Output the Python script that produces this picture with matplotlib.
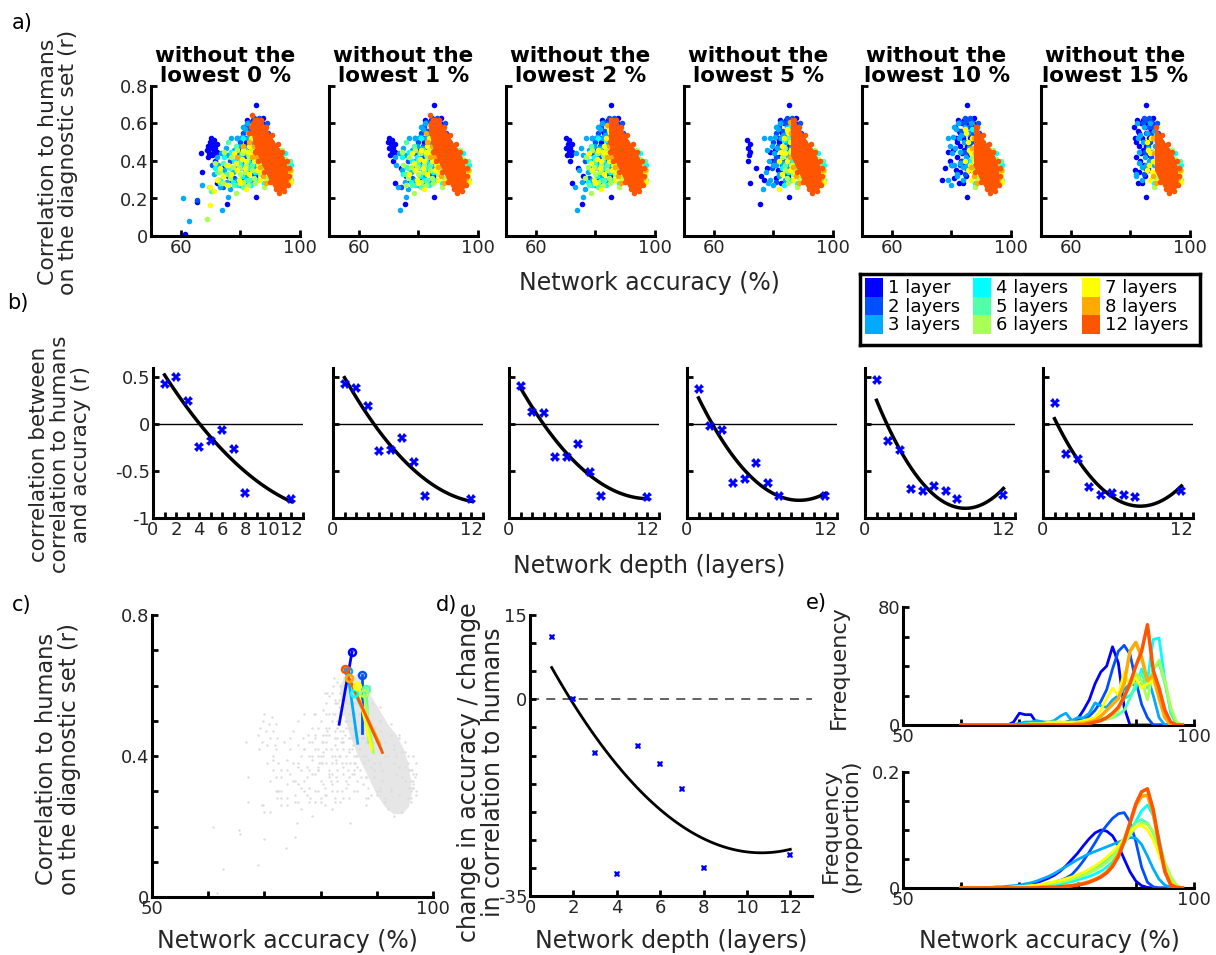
"""Network accuracy vs. correlation to humans: scatters, depth fits and accuracy histograms."""

import matplotlib
matplotlib.use("Agg")
import matplotlib.pyplot as plt
from matplotlib.patches import Polygon, Rectangle
import numpy as np

plt.rcParams["font.family"] = ["DejaVu Sans"]

W, H = 1216, 955
TXT = "#262626"

# ---------------------------------------------------------------------------
# Data
# ---------------------------------------------------------------------------

LAYER_LABELS = ["1 layer", "2 layers", "3 layers", "4 layers", "5 layers",
                "6 layers", "7 layers", "8 layers", "12 layers"]
LAYER_COLORS = ["#0000ff", "#0050ff", "#00aaff", "#00ffff", "#50ffaa",
                "#aaff55", "#ffff00", "#ffaa00", "#ff5500"]

DROP_PCT = [0, 1, 2, 5, 10, 15]

# (accuracy %, r) of individual networks
PTS_L1 = [(68.8, 0.46), (69.2, 0.48), (69.5, 0.44), (69.8, 0.50), (70.2, 0.47),
          (70.5, 0.43), (70.8, 0.49), (71.0, 0.45), (71.3, 0.51), (71.6, 0.47),
          (71.8, 0.43), (72.1, 0.49), (72.3, 0.45), (70.0, 0.52), (69.0, 0.42),
          (71.5, 0.40), (61.5, 0.01), (65.6, 0.18), (67.1, 0.34), (66.8, 0.44),
          (75.5, 0.17), (72.2, 0.28), (76.0, 0.32), (78.0, 0.36), (79.5, 0.40),
          (80.5, 0.46), (81.5, 0.52), (82.5, 0.56), (83.5, 0.60), (84.2, 0.62),
          (85.4, 0.70), (84.8, 0.58), (83.0, 0.48), (81.8, 0.42), (80.2, 0.38),
          (82.8, 0.34), (84.0, 0.28), (86.0, 0.62), (86.5, 0.60), (85.8, 0.55),
          (84.5, 0.50), (83.7, 0.44), (77.0, 0.30), (79.0, 0.45), (74.0, 0.36),
          (80.8, 0.31), (81.2, 0.58), (82.0, 0.50), (82.3, 0.62), (83.0, 0.55),
          (83.3, 0.40), (83.8, 0.52), (84.3, 0.46), (84.6, 0.38), (85.0, 0.60),
          (85.3, 0.48), (85.7, 0.43), (86.2, 0.52), (86.8, 0.56), (87.2, 0.60),
          (87.6, 0.63), (86.6, 0.45), (85.9, 0.35), (84.9, 0.32), (82.6, 0.28),
          (81.5, 0.35), (87.8, 0.52), (88.2, 0.57), (85.2, 0.21)]
PTS_L2 = [(65.5, 0.19), (70.5, 0.38), (72.5, 0.30), (74.0, 0.26), (76.5, 0.40),
          (78.5, 0.44), (80.0, 0.50), (81.0, 0.55), (82.0, 0.58), (83.0, 0.61),
          (84.5, 0.63), (85.5, 0.62), (86.2, 0.58), (84.0, 0.54), (82.5, 0.47),
          (81.0, 0.42), (79.5, 0.36), (78.0, 0.31), (83.5, 0.40), (85.0, 0.45),
          (86.5, 0.50), (87.2, 0.55), (87.5, 0.45), (86.0, 0.36), (84.5, 0.33),
          (80.5, 0.40), (81.5, 0.48), (82.2, 0.52), (83.2, 0.56), (83.8, 0.45),
          (84.2, 0.60), (84.8, 0.36), (85.3, 0.55), (85.8, 0.48), (86.4, 0.63),
          (86.8, 0.42), (87.0, 0.61), (87.8, 0.58), (88.3, 0.52), (88.8, 0.60),
          (88.0, 0.40), (89.2, 0.55), (89.6, 0.48), (82.8, 0.38), (80.8, 0.29),
          (79.0, 0.52)]
PTS_L3 = [(60.8, 0.20), (62.6, 0.08), (67.0, 0.27), (73.8, 0.14), (71.0, 0.33),
          (72.5, 0.38), (73.5, 0.44), (74.5, 0.35), (75.5, 0.29), (76.5, 0.25),
          (77.5, 0.34), (78.5, 0.40), (79.5, 0.48), (80.5, 0.53), (81.5, 0.57),
          (82.5, 0.52), (83.0, 0.45), (81.0, 0.38), (79.0, 0.30), (80.0, 0.27),
          (82.0, 0.32), (84.0, 0.37), (85.0, 0.42), (86.0, 0.47), (87.0, 0.52),
          (88.0, 0.56), (89.0, 0.50), (90.0, 0.45), (92.0, 0.40), (94.0, 0.37),
          (95.0, 0.33), (96.0, 0.30), (77.0, 0.52), (75.0, 0.47), (76.0, 0.43),
          (77.8, 0.46), (78.2, 0.28), (79.8, 0.38), (80.2, 0.44), (80.8, 0.58),
          (81.2, 0.47), (81.8, 0.33), (82.2, 0.60), (82.8, 0.39), (83.2, 0.54),
          (83.8, 0.30), (84.3, 0.50), (84.7, 0.58), (85.3, 0.38), (85.6, 0.55),
          (86.3, 0.40), (86.7, 0.60), (87.3, 0.45), (87.8, 0.38), (88.4, 0.48),
          (89.3, 0.42), (90.5, 0.38), (91.5, 0.44), (93.0, 0.38), (75.8, 0.21),
          (78.8, 0.52), (73.0, 0.26), (72.0, 0.42)]
PTS_L4 = [(71.5, 0.36), (73.0, 0.30), (74.5, 0.42), (76.0, 0.37), (77.5, 0.29),
          (78.5, 0.35), (79.5, 0.42), (80.5, 0.32), (81.5, 0.46), (82.5, 0.40),
          (83.5, 0.51), (84.5, 0.56), (85.5, 0.58), (87.0, 0.57), (88.5, 0.54),
          (90.5, 0.50), (92.5, 0.46), (94.5, 0.41), (95.8, 0.36), (96.4, 0.31),
          (83.5, 0.27), (86.0, 0.30), (88.0, 0.28), (75.0, 0.33), (76.8, 0.45),
          (78.0, 0.40), (79.0, 0.27), (80.0, 0.38), (81.0, 0.52), (82.0, 0.30),
          (83.0, 0.36), (84.0, 0.44), (85.0, 0.34), (86.0, 0.50), (86.5, 0.40),
          (87.5, 0.47), (89.5, 0.44), (91.5, 0.40), (93.5, 0.35), (95.0, 0.44),
          (96.8, 0.34), (97.0, 0.38)]
PTS_L5 = [(70.0, 0.24), (72.0, 0.34), (74.0, 0.39), (75.5, 0.33), (77.0, 0.42),
          (78.0, 0.27), (79.5, 0.36), (81.0, 0.44), (82.0, 0.35), (83.0, 0.30),
          (84.0, 0.47), (85.0, 0.52), (86.5, 0.55), (88.5, 0.52), (90.5, 0.47),
          (93.0, 0.42), (95.5, 0.38), (96.0, 0.33), (76.0, 0.50), (73.0, 0.28),
          (76.5, 0.36), (78.5, 0.48), (80.0, 0.40), (80.8, 0.26), (82.5, 0.43),
          (83.8, 0.38), (85.0, 0.41), (86.0, 0.46), (87.0, 0.36), (88.0, 0.44),
          (89.5, 0.38), (91.0, 0.36), (92.5, 0.31), (94.0, 0.29), (96.5, 0.40),
          (97.0, 0.30)]
PTS_L6 = [(68.8, 0.09), (69.5, 0.26), (71.5, 0.39), (73.0, 0.34), (74.0, 0.28),
          (75.0, 0.38), (76.5, 0.31), (77.5, 0.37), (78.5, 0.23), (80.0, 0.33),
          (81.0, 0.29), (82.0, 0.38), (83.0, 0.42), (84.0, 0.35), (85.0, 0.28),
          (86.5, 0.33), (88.0, 0.26), (90.0, 0.30), (93.0, 0.43), (95.0, 0.41),
          (96.0, 0.36), (79.0, 0.46), (72.5, 0.30), (74.5, 0.45), (76.0, 0.27),
          (77.0, 0.42), (79.5, 0.37), (80.5, 0.44), (81.5, 0.34), (82.5, 0.27),
          (83.5, 0.47), (84.5, 0.31), (85.5, 0.45), (86.0, 0.38), (87.0, 0.42),
          (88.5, 0.31), (89.5, 0.34), (91.5, 0.28), (94.0, 0.46), (96.5, 0.31),
          (97.0, 0.35)]
PTS_L7 = [(69.8, 0.26), (69.9, 0.165), (72.0, 0.30), (74.0, 0.32), (75.5, 0.27),
          (77.0, 0.33), (78.5, 0.39), (79.5, 0.30), (80.5, 0.41), (81.5, 0.36),
          (82.5, 0.45), (83.5, 0.52), (84.5, 0.57), (85.5, 0.50), (86.5, 0.44),
          (87.5, 0.40), (83.0, 0.33), (84.5, 0.40), (85.5, 0.35), (86.5, 0.30),
          (88.0, 0.34), (89.0, 0.29), (91.0, 0.33), (94.5, 0.34), (96.0, 0.28),
          (82.0, 0.25), (71.0, 0.24), (73.0, 0.36), (76.0, 0.38), (78.0, 0.44),
          (79.0, 0.35), (80.0, 0.28), (81.0, 0.46), (82.0, 0.40), (83.0, 0.48),
          (84.0, 0.44), (85.0, 0.55), (85.8, 0.46), (86.2, 0.38), (86.8, 0.52),
          (87.2, 0.34), (87.8, 0.45), (88.5, 0.39), (89.5, 0.36), (90.5, 0.31),
          (92.5, 0.30), (95.5, 0.31), (96.5, 0.33), (97.0, 0.29)]
PTS_L8 = [(79.0, 0.42), (81.0, 0.48), (82.5, 0.55), (84.0, 0.59), (85.5, 0.61),
          (84.5, 0.48), (85.5, 0.42), (86.5, 0.37), (87.5, 0.32), (88.5, 0.28),
          (90.5, 0.30), (93.5, 0.40), (95.0, 0.37), (96.0, 0.31), (83.0, 0.50),
          (84.0, 0.42), (86.0, 0.55), (86.8, 0.47), (87.5, 0.52), (88.0, 0.44),
          (89.0, 0.37), (91.5, 0.27), (95.5, 0.28), (96.5, 0.35)]
PTS_L12 = [(84.0, 0.647), (85.5, 0.62), (83.0, 0.55), (85.0, 0.45), (86.0, 0.40),
           (88.0, 0.34), (90.0, 0.29), (92.0, 0.25), (93.0, 0.23), (94.5, 0.24),
           (96.0, 0.27), (96.4, 0.32), (96.2, 0.36), (95.5, 0.40), (94.0, 0.45),
           (92.5, 0.49), (90.5, 0.54), (88.5, 0.58), (87.0, 0.62), (83.5, 0.58),
           (84.5, 0.55), (85.0, 0.50), (86.5, 0.58), (85.8, 0.45)]
# outline of the solid 12-layer core
CORE12_ACC = [83.5, 84.5, 86.0, 87.5, 89.0, 90.5, 92.0, 93.5, 94.8, 95.6, 96.1, 96.2,
              95.7, 94.5, 93.0, 91.5, 90.0, 88.8, 87.6, 86.4, 85.2, 84.3, 83.6]
CORE12_R = [0.60, 0.63, 0.63, 0.61, 0.57, 0.53, 0.49, 0.46, 0.42, 0.38, 0.33, 0.29,
            0.255, 0.235, 0.235, 0.255, 0.29, 0.33, 0.37, 0.41, 0.46, 0.51, 0.56]

# accuracy histogram, 1 % bins centred on HIST_ACC (60 ... 98)
HIST_ACC = list(range(60, 99))
HIST_L1 = [0] * 9 + [2] + [8, 7, 7, 1, 0, 1, 1, 1, 1, 2] + \
    [4, 10, 17, 28, 36, 40, 53, 42, 12, 0] + [0] * 9
HIST_L2 = [0] * 10 + [1, 1, 1, 2, 2, 1, 2, 1, 2, 3] + \
    [3, 4, 6, 10, 16, 24, 38, 50, 54, 48] + [30, 14, 5, 0, 0, 0, 0, 0, 0]
HIST_L3 = [0] * 10 + [1, 2, 2, 3, 2, 2, 3, 6, 8, 3] + \
    [5, 5, 8, 15, 13, 12, 17, 20, 24, 28] + [27, 28, 33, 20, 5, 0, 0, 0, 0]
HIST_L4 = [0] * 10 + [0, 1, 1, 1, 1, 1, 1, 2, 1, 1] + \
    [2, 2, 2, 3, 4, 5, 8, 12, 18, 20] + [25, 38, 30, 58, 59, 30, 8, 0, 0]
HIST_L5 = [0] * 10 + [0, 0, 1, 1, 1, 1, 1, 1, 1, 1] + \
    [1, 1, 2, 2, 3, 4, 5, 7, 10, 18] + [28, 35, 25, 38, 42, 28, 10, 0, 0]
HIST_L6 = [0] * 10 + [0, 0, 1, 1, 1, 2, 1, 1, 1, 1] + \
    [1, 2, 2, 3, 3, 4, 5, 10, 20, 28] + [35, 30, 17, 38, 44, 30, 12, 2, 0]
HIST_L7 = [0] * 10 + [0, 0, 0, 0, 0, 2, 2, 2, 2, 2] + \
    [2, 3, 4, 5, 10, 18, 25, 20, 36, 26] + [32, 25, 28, 30, 19, 8, 0, 0, 0]
HIST_L8 = [0] * 20 + [1, 1, 2, 3, 6, 10, 14, 18, 28, 50] + \
    [56, 46, 30, 34, 18, 5, 0, 0, 0]
HIST_L12 = [0] * 22 + [1, 2, 3, 5, 8, 12, 19, 28] + \
    [40, 50, 68, 37, 25, 10, 2, 0, 0]

# smoothed accuracy densities (proportion) on the same grid
DENS_L1 = [0, 0, 0, 0, 0, 0, .001, .001, .001, .002,
           .003, .004, .006, .009, .013, .017, .022, .029, .038, .049,
           .060, .073, .085, .095, .100, .098, .090, .073, .050, .028,
           .012, .004, .001, 0, 0, 0, 0, 0, 0]
DENS_L2 = [0, 0, 0, 0, 0, 0, 0, 0, .001, .001,
           .002, .002, .003, .004, .006, .008, .010, .013, .017, .023,
           .034, .047, .062, .078, .095, .108, .120, .128, .130, .114,
           .080, .036, .010, .002, 0, 0, 0, 0, 0]
DENS_L3 = [0, 0, 0, 0, .001, .001, .002, .002, .003, .004,
           .005, .007, .009, .012, .016, .020, .025, .031, .037, .043,
           .049, .054, .059, .063, .067, .071, .075, .079, .083, .087,
           .086, .075, .055, .033, .015, .005, .001, 0, 0]
DENS_L4 = [0, 0, 0, 0, 0, 0, .001, .001, .001, .001,
           .002, .002, .003, .003, .004, .005, .006, .007, .009, .011,
           .014, .017, .020, .024, .029, .036, .045, .060, .078, .097,
           .115, .133, .143, .125, .085, .040, .012, .002, 0]
DENS_L5 = [0, 0, 0, 0, 0, 0, 0, .001, .001, .001,
           .002, .003, .004, .005, .006, .008, .010, .012, .014, .017,
           .020, .024, .028, .034, .040, .048, .058, .070, .084, .100,
           .113, .118, .112, .095, .068, .038, .015, .003, 0]
DENS_L6 = [0, 0, 0, 0, 0, 0, 0, .001, .001, .001,
           .002, .002, .003, .004, .005, .007, .008, .010, .012, .015,
           .018, .022, .026, .031, .037, .044, .053, .064, .077, .092,
           .105, .112, .110, .098, .075, .045, .020, .005, 0]
DENS_L7 = [0, 0, 0, 0, 0, 0, .001, .001, .001, .002,
           .002, .003, .004, .005, .007, .009, .011, .013, .016, .019,
           .023, .027, .032, .038, .045, .053, .062, .073, .085, .097,
           .106, .108, .100, .083, .058, .030, .010, .002, 0]
DENS_L8 = [0] * 10 + [0, 0, 0, .001, .001, .001, .002, .002, .003, .004,
                      .006, .008, .011, .015, .020, .028, .040, .058, .082, .112,
                      .142, .158, .160, .128, .076, .030, .007, .001, 0]
DENS_L12 = [0] * 10 + [0, 0, 0, 0, .001, .001, .001, .002, .003, .004,
                       .005, .007, .010, .014, .019, .026, .037, .054, .080, .112,
                       .145, .166, .171, .135, .078, .028, .005, .001, 0]

# b) correlation between (correlation to humans) and accuracy, per depth
B_DEPTH = [1, 2, 3, 4, 5, 6, 7, 8, 12]
B_R_0 = [0.43, 0.50, 0.25, -0.24, -0.18, -0.06, -0.26, -0.73, -0.80]
B_R_1 = [0.43, 0.39, 0.19, -0.29, -0.28, -0.15, -0.40, -0.77, -0.80]
B_R_2 = [0.41, 0.13, 0.12, -0.35, -0.35, -0.21, -0.51, -0.77, -0.78]
B_R_5 = [0.38, -0.02, -0.06, -0.63, -0.58, -0.41, -0.63, -0.77, -0.77]
B_R_10 = [0.47, -0.18, -0.27, -0.69, -0.71, -0.66, -0.71, -0.80, -0.75]
B_R_15 = [0.23, -0.32, -0.37, -0.67, -0.75, -0.73, -0.75, -0.78, -0.71]

# c) per-depth trend segments (top end marked with a circle)
C_TOP_ACC = [85.6, 87.4, 84.8, 86.0, 88.1, 87.7, 86.4, 85.0, 84.3]
C_TOP_R = [0.696, 0.63, 0.64, 0.58, 0.59, 0.58, 0.60, 0.62, 0.647]
C_BOT_ACC = [83.3, 87.4, 86.6, 90.8, 88.6, 89.4, 89.1, 90.5, 91.0]
C_BOT_R = [0.49, 0.464, 0.436, 0.42, 0.44, 0.41, 0.42, 0.435, 0.41]

# d) change in accuracy / change in correlation to humans
D_RATIO = [11.0, 0.0, -9.5, -31.0, -8.3, -11.5, -16.0, -30.0, -27.7]

PTS = [PTS_L1, PTS_L2, PTS_L3, PTS_L4, PTS_L5, PTS_L6, PTS_L7, PTS_L8, PTS_L12]
HISTS = [HIST_L1, HIST_L2, HIST_L3, HIST_L4, HIST_L5, HIST_L6, HIST_L7, HIST_L8, HIST_L12]
DENS = [DENS_L1, DENS_L2, DENS_L3, DENS_L4, DENS_L5, DENS_L6, DENS_L7, DENS_L8, DENS_L12]
B_RS = [B_R_0, B_R_1, B_R_2, B_R_5, B_R_10, B_R_15]


# ---------------------------------------------------------------------------
# Helpers
# ---------------------------------------------------------------------------

fig = plt.figure(figsize=(W / 100, H / 100), dpi=100)


def add_ax(left, top, right, bottom):
    """Axes from pixel box (origin top-left)."""
    return fig.add_axes([left / W, 1 - bottom / H, (right - left) / W, (bottom - top) / H])


def style(ax, size=13):
    for s in ("top", "right"):
        ax.spines[s].set_visible(False)
    for s in ("left", "bottom"):
        ax.spines[s].set_linewidth(2.2)
        ax.spines[s].set_color("black")
    ax.tick_params(direction="in", length=4, width=2, color="black",
                   labelsize=size, labelcolor=TXT, pad=2)


def cutoff(counts, pct):
    """Accuracy below which the lowest pct % of a layer's networks lie."""
    if pct == 0:
        return -np.inf
    counts = np.asarray(counts, float)
    edges = np.append(np.asarray(HIST_ACC) - 0.5, HIST_ACC[-1] + 0.5)
    cum = np.concatenate([[0], np.cumsum(counts)])
    target = pct / 100 * cum[-1]
    idx = np.searchsorted(cum, target)
    frac = (target - cum[idx - 1]) / (cum[idx] - cum[idx - 1])
    return edges[idx - 1] + frac * (edges[idx] - edges[idx - 1])


def ylabel_text(x, y, s, size):
    fig.text(x / W, 1 - y / H, s, rotation=90, ha="center", va="center",
             fontsize=size, color=TXT, linespacing=1.05)


def xlabel_text(x, y, s, size=17):
    fig.text(x / W, 1 - y / H, s, ha="center", va="center", fontsize=size, color=TXT)


# ---------------------------------------------------------------------------
# a) scatter panels
# ---------------------------------------------------------------------------

A_LEFT = [151, 329, 506, 684, 862, 1041]
for i, pct in enumerate(DROP_PCT):
    ax = add_ax(A_LEFT[i], 86, A_LEFT[i] + 149, 236)
    for pts, hist, col in zip(PTS[:-1], HISTS[:-1], LAYER_COLORS[:-1]):
        arr = np.array(pts)
        keep = arr[:, 0] >= cutoff(hist, pct)
        ax.scatter(arr[keep, 0], arr[keep, 1], s=16, color=col, lw=0, zorder=2)
    cut12 = cutoff(HIST_L12, pct)
    core = Polygon(np.column_stack([CORE12_ACC, CORE12_R]), closed=True,
                   fc=LAYER_COLORS[-1], ec="none", zorder=3)
    ax.add_patch(core)
    if pct > 0:
        core.set_clip_path(Rectangle((cut12, -1), 100, 3, transform=ax.transData))
    arr = np.array(PTS_L12)
    keep = arr[:, 0] >= cut12
    ax.scatter(arr[keep, 0], arr[keep, 1], s=16, color=LAYER_COLORS[-1], lw=0, zorder=4)

    ax.set_xlim(50, 100)
    ax.set_ylim(0, 0.8)
    style(ax)
    ax.set_xticks([60, 80, 100])
    ax.set_xticklabels(["60", "", "100"])
    ax.set_yticks([0, 0.2, 0.4, 0.6, 0.8])
    if i == 0:
        ax.set_yticklabels(["0", "0.2", "0.4", "0.6", "0.8"])
    else:
        ax.set_yticklabels([])
    ax.set_title(f"without the\nlowest {pct} %", fontsize=15.5, fontweight="bold",
                 pad=3, linespacing=1.0)

ylabel_text(58, 162, "Correlation to humans\non the diagnostic set (r)", 15.8)
xlabel_text(649, 283, "Network accuracy (%)")

# legend
leg = add_ax(860, 274, 1200, 345)
leg.set_xlim(0, 340)
leg.set_ylim(71, 0)
leg.set_xticks([])
leg.set_yticks([])
for s in leg.spines.values():
    s.set_linewidth(2.5)
    s.set_color("black")
for k, (lab, col) in enumerate(zip(LAYER_LABELS, LAYER_COLORS)):
    c, r = divmod(k, 3)
    x0 = [5, 113, 222][c]
    y0 = [14, 32.5, 51][r]
    leg.add_patch(Rectangle((x0, y0 - 9.5), 18, 19, fc=col, ec="none"))
    leg.text(x0 + 23, y0, lab, va="center", ha="left", fontsize=13, color="black")

# ---------------------------------------------------------------------------
# b) correlation vs depth with quadratic fits
# ---------------------------------------------------------------------------

B_LEFT = [153, 333, 509, 687, 865, 1043]
xs = np.linspace(1, 12, 100)
for i, rs in enumerate(B_RS):
    ax = add_ax(B_LEFT[i], 368, B_LEFT[i] + 150, 518)
    ax.axhline(0, color="black", lw=1, zorder=1)
    coef = np.polyfit(B_DEPTH, rs, 2)
    ax.plot(xs, np.polyval(coef, xs), color="black", lw=2.5, zorder=2)
    ax.plot(B_DEPTH, rs, "X", color="#0000ff", ms=7, mew=0, zorder=3)
    ax.set_xlim(0, 13)
    ax.set_ylim(-1, 0.6)
    style(ax)
    ax.set_xticks(range(0, 14))
    ax.set_yticks([-1, -0.5, 0, 0.5])
    if i == 0:
        ax.set_xticklabels([str(v) if v % 2 == 0 and v <= 12 else "" for v in range(14)])
        ax.set_yticklabels(["-1", "-0.5", "0", "0.5"])
    else:
        ax.set_xticklabels([str(v) if v in (0, 12) else "" for v in range(14)])
        ax.set_yticklabels([])

ylabel_text(60, 454, "correlation between\ncorrelation to humans\nand accuracy (r)", 15.5)
xlabel_text(649, 566, "Network depth (layers)")

# ---------------------------------------------------------------------------
# c) all networks in gray with per-depth trend segments
# ---------------------------------------------------------------------------

ax = add_ax(152, 615, 433, 897)
ax.add_patch(Polygon(np.column_stack([CORE12_ACC, CORE12_R]), closed=True,
                     fc="#e6e6e6", ec="none", zorder=1))
for pts in PTS:
    arr = np.array(pts)
    ax.scatter(arr[:, 0], arr[:, 1], s=3, color="#dddddd", lw=0, zorder=1)
for k, col in enumerate(LAYER_COLORS):
    ax.plot([C_BOT_ACC[k], C_TOP_ACC[k]], [C_BOT_R[k], C_TOP_R[k]], color=col, lw=2, zorder=3)
    ax.plot(C_TOP_ACC[k], C_TOP_R[k], "o", mfc="none", mec=col, ms=5, mew=1.8, zorder=4)
ax.set_xlim(50, 100)
ax.set_ylim(0, 0.8)
style(ax)
ax.set_xticks(range(50, 101, 10))
ax.set_xticklabels(["50", "", "", "", "", "100"])
ax.set_yticks(np.arange(0, 0.81, 0.1))
ax.set_yticklabels(["0", "", "", "", "0.4", "", "", "", "0.8"])
ylabel_text(58, 759, "Correlation to humans\non the diagnostic set (r)", 16.3)
xlabel_text(287, 941, "Network accuracy (%)")

# ---------------------------------------------------------------------------
# d) ratio vs depth
# ---------------------------------------------------------------------------

ax = add_ax(530, 615, 812, 896)
ax.axhline(0, color="#555555", lw=1.3, ls=(0, (5, 4)), zorder=1)
coef = np.polyfit(B_DEPTH, D_RATIO, 2)
ax.plot(xs, np.polyval(coef, xs), color="black", lw=2, zorder=2)
ax.plot(B_DEPTH, D_RATIO, "X", color="#0000ff", ms=4.5, mew=0, zorder=3)
ax.set_xlim(0, 13)
ax.set_ylim(-35, 15)
style(ax)
ax.set_xticks(range(0, 13, 2))
ax.set_yticks(range(-35, 16, 5))
ax.set_yticklabels(["-35"] + [""] * 6 + ["0"] + [""] * 2 + ["15"])
ylabel_text(481, 772, "change in accuracy / change\nin correlation to humans", 17)
xlabel_text(671, 941, "Network depth (layers)")

# ---------------------------------------------------------------------------
# e) accuracy histograms and densities
# ---------------------------------------------------------------------------

ax = add_ax(903, 607, 1194, 725)
for k, (hist, col) in enumerate(zip(HISTS, LAYER_COLORS)):
    ax.plot(HIST_ACC, hist, color=col, lw=2.5 if k >= 7 else 2, zorder=2 + k)
ax.set_xlim(50, 100)
ax.set_ylim(0, 80)
style(ax)
ax.set_xticks(range(50, 101, 10))
ax.set_xticklabels(["50", "", "", "", "", "100"])
ax.set_yticks(range(0, 81, 20))
ax.set_yticklabels(["0", "", "", "", "80"])
ylabel_text(839, 667, "Frrequency", 16)

ax = add_ax(903, 772, 1194, 888)
for k, (dens, col) in enumerate(zip(DENS, LAYER_COLORS)):
    ax.plot(HIST_ACC, dens, color=col, lw=2.5 if k >= 7 else 2, zorder=2 + k)
ax.set_xlim(50, 100)
ax.set_ylim(0, 0.2)
style(ax)
ax.set_xticks(range(50, 101, 10))
ax.set_xticklabels(["50", "", "", "", "", "100"])
ax.set_yticks(np.arange(0, 0.201, 0.05))
ax.set_yticklabels(["0", "", "", "", "0.2"])
ylabel_text(841, 826, "Frequency\n(proportion)", 16)
xlabel_text(1049, 941, "Network accuracy (%)")

# panel letters
for lab, x, y in [("a)", 22, 23), ("b)", 18, 303), ("c)", 22, 605),
                  ("d)", 447, 605), ("e)", 816, 603)]:
    fig.text(x / W, 1 - y / H, lab, ha="center", va="center", fontsize=15, color="black")

fig.savefig("out.png", dpi=100)
